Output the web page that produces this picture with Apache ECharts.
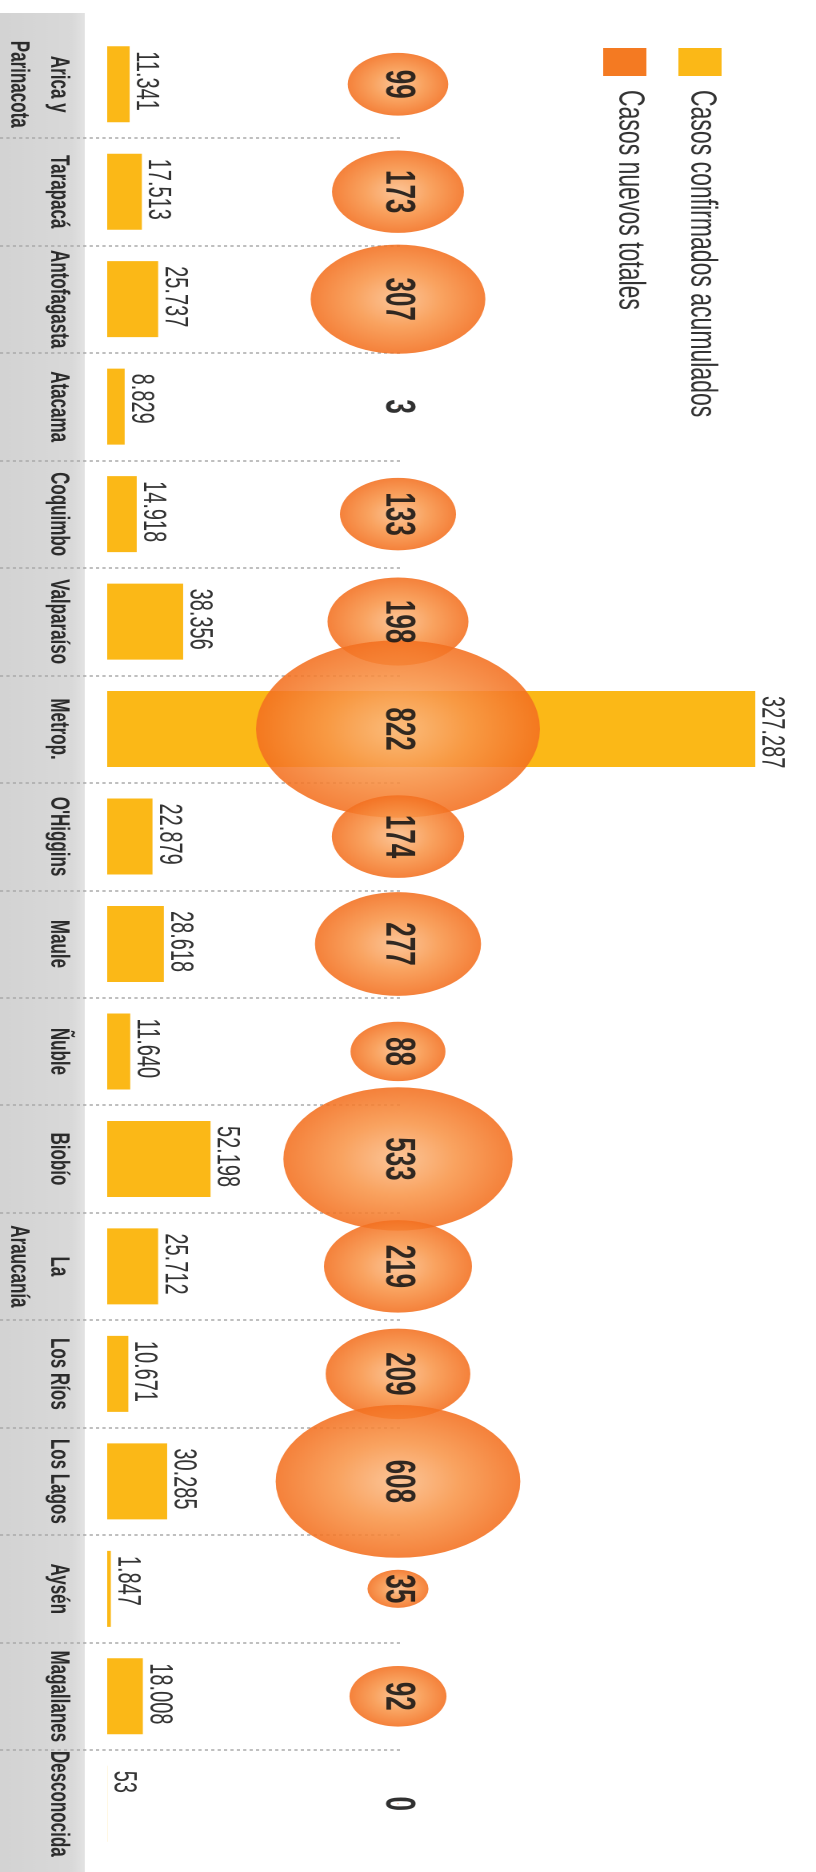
<!DOCTYPE html>
<html lang="es">
<head>
    <meta charset="UTF-8">
    <title>Casos por región</title>
    <script src="https://cdn.jsdelivr.net/npm/echarts@6/dist/echarts.min.js"></script>
    <style>
        html, body { margin: 0; padding: 0; background: #fff; overflow: hidden; }
        /* el gráfico original viene estirado en horizontal: se dibuja a 510px y se estira x1.6 */
        #main { width: 510px; height: 1872px; transform: scaleX(1.6); transform-origin: 0 0; }
    </style>
</head>
<body>

<div id="main"></div>

<script type="text/javascript">

    // datos por región
    var regiones = ['Arica y\nParinacota', 'Tarapacá', 'Antofagasta', 'Atacama', 'Coquimbo', 'Valparaíso',
        'Metrop.', "O'Higgins", 'Maule', 'Ñuble', 'Biobío', 'La\nAraucanía', 'Los Ríos', 'Los Lagos',
        'Aysén', 'Magallanes', 'Desconocida']
    var acumulados = [11341, 17513, 25737, 8829, 14918, 38356, 327287, 22879, 28618, 11640, 52198, 25712,
        10671, 30285, 1847, 18008, 53]
    var nuevos = [99, 173, 307, 3, 133, 198, 822, 174, 277, 88, 533, 219, 209, 608, 35, 92, 0]
    var leyenda = ['Casos confirmados acumulados', 'Casos nuevos totales']

    var AMARILLO = '#fbb817'
    var NARANJA = '#f47a22'
    var FUENTE = "'Liberation Sans', Arial, sans-serif"

    function miles(v) {
        return String(v).replace(/\B(?=(\d{3})+(?!\d))/g, '.')
    }

    // diámetro de la burbuja
    function diametro(v) {
        return v < 10 ? 1 : (9.8 * Math.sqrt(v) + 3) / 1.6
    }

    var myChart = echarts.init(document.getElementById('main'), null, {devicePixelRatio: 2})

    var option = {
        animation: false,
        grid: [
            {left: 67, width: 437.5, top: 30.5, bottom: 14.5, outerBoundsMode: 'none'},    // barras
            {left: 148.75, width: 200, top: 30.5, bottom: 14.5, outerBoundsMode: 'none'},  // burbujas
            {left: 0, width: 250, top: 30.5, bottom: 14.5, outerBoundsMode: 'none'},       // separadores
            {
                left: 0, width: 53, top: 13, bottom: 0, show: true, borderWidth: 0, z: -1,
                outerBoundsMode: 'none',
                backgroundColor: {
                    type: 'linear', x: 0, y: 0, x2: 1, y2: 0,
                    colorStops: [{offset: 0, color: '#d3d3d3'}, {offset: 0.85, color: '#d9d9d9'}, {offset: 1, color: '#e3e3e3'}]
                }
            }
        ],
        xAxis: [
            {gridIndex: 0, type: 'value', min: 0, max: 353500, show: false},
            {gridIndex: 1, type: 'value', min: -1, max: 1, show: false},
            {gridIndex: 2, type: 'value', show: false},
            {gridIndex: 3, type: 'value', show: false}
        ],
        yAxis: [
            {
                gridIndex: 0, type: 'category', data: regiones, inverse: true,
                axisLine: {show: false}, axisTick: {show: false}, splitLine: {show: false},
                axisLabel: {
                    interval: 0, rotate: -90, margin: 18, align: 'center', verticalAlign: 'top',
                    fontFamily: FUENTE, fontSize: 17, fontWeight: 'bold', color: '#2b2b2b', lineHeight: 25
                }
            },
            {gridIndex: 1, type: 'category', data: regiones, inverse: true, show: false},
            {
                gridIndex: 2, type: 'category', data: regiones, inverse: true,
                axisLine: {show: false}, axisTick: {show: false}, axisLabel: {show: false},
                splitLine: {
                    show: true, showMinLine: false, showMaxLine: false,
                    lineStyle: {color: '#a9a9a9', width: 1.5, type: [2, 2]}
                }
            },
            {gridIndex: 3, type: 'category', data: regiones, show: false}
        ],
        graphic: [
            {type: 'rect', shape: {x: 424, y: 48, width: 27, height: 28}, style: {fill: AMARILLO}},
            {type: 'rect', shape: {x: 377, y: 48, width: 27, height: 28}, style: {fill: NARANJA}},
            {
                type: 'text', x: 438.5, y: 90, rotation: -Math.PI / 2,
                style: {
                    text: leyenda[0], fontFamily: FUENTE, fontSize: 23, fill: '#333',
                    align: 'left', verticalAlign: 'middle', textAlign: 'left', textVerticalAlign: 'middle'
                }
            },
            {
                type: 'text', x: 393.5, y: 90, rotation: -Math.PI / 2,
                style: {
                    text: leyenda[1], fontFamily: FUENTE, fontSize: 23, fill: '#333',
                    align: 'left', verticalAlign: 'middle', textAlign: 'left', textVerticalAlign: 'middle'
                }
            }
        ],
        series: [
            {
                name: leyenda[0],
                type: 'bar',
                xAxisIndex: 0, yAxisIndex: 0,
                data: acumulados,
                barWidth: 76,
                itemStyle: {color: AMARILLO},
                label: {
                    show: true, position: ['100%', 0], offset: [5, 0], rotate: -90,
                    align: 'left', verticalAlign: 'bottom',
                    fontFamily: FUENTE, fontSize: 20, color: '#333',
                    formatter: function (p) { return miles(p.value) }
                }
            },
            {
                name: leyenda[1],
                type: 'scatter',
                xAxisIndex: 1, yAxisIndex: 1,
                data: nuevos.map(function (v, i) { return [0, i] }),
                z: 3,
                symbolSize: function (val, p) {
                    return diametro(nuevos[p.dataIndex])
                },
                itemStyle: {
                    opacity: 0.88,
                    color: {
                        type: 'radial', x: 0.5, y: 0.5, r: 0.5,
                        colorStops: [
                            {offset: 0, color: '#fbbd8a'},
                            {offset: 0.5, color: '#f8964a'},
                            {offset: 1, color: '#f37020'}
                        ]
                    }
                },
                label: {
                    show: true, position: 'inside', rotate: -90,
                    fontFamily: FUENTE, fontSize: 26, fontWeight: 'bold', color: '#151515',
                    formatter: function (p) { return String(nuevos[p.dataIndex]) }
                }
            }
        ]
    }

    myChart.setOption(option)

</script>

</body>
</html>
